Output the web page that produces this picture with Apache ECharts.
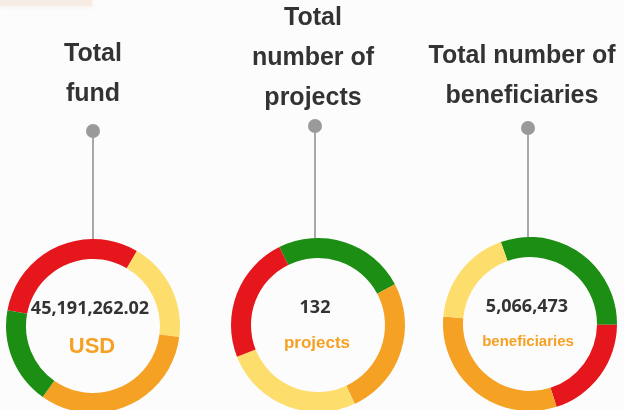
<!DOCTYPE html>
<html>
<head>
<meta charset="utf-8">
<script src="https://cdn.jsdelivr.net/npm/echarts@6/dist/echarts.min.js"></script>
<style>
  html, body { margin: 0; padding: 0; background: #fcfcfc; }
  #chart { width: 624px; height: 410px; }
</style>
</head>
<body>
<div id="chart"></div>
<script>
// headers above each ring
const titles = ['Total\nfund', 'Total\nnumber of\nprojects', 'Total number of\nbeneficiaries']
const totals = ['45,191,262.02', '132', '5,066,473']
const units = ['USD', 'projects', 'beneficiaries']

// ring slices (share of ring, %) in clockwise order
const segNames = [
  ['red', 'yellow', 'orange', 'green'],
  ['green', 'orange', 'yellow', 'red'],
  ['green', 'red', 'orange', 'yellow']
]
const segValues = [
  [30.5, 18.6, 32.8, 18.1],
  [24.6, 25.8, 26.0, 23.6],
  [30.6, 19.9, 31.3, 18.2]
]

const palette = {
  red: '#e5161c',
  yellow: '#fddd6c',
  orange: '#f5a123',
  green: '#1c8e14'
}

const centers = [[93, 326], [318, 325], [530, 324]]
const startAngles = [169.5, 116.4, 109.6]
const titleX = [93, 313, 522]
const titleTops = [34, -2, 36]
const pinY = [131, 126, 128]
const pinX = [93, 315, 528]
const unitSizes = [22, 17, 15]

const chart = echarts.init(document.getElementById('chart'))

const series = segValues.map((vals, i) => ({
  type: 'pie',
  radius: [67, 87],
  center: centers[i],
  startAngle: startAngles[i],
  clockwise: true,
  silent: true,
  label: { show: false },
  labelLine: { show: false },
  emphasis: { disabled: true },
  data: vals.map((v, j) => ({
    name: segNames[i][j],
    value: v,
    itemStyle: { color: palette[segNames[i][j]] }
  }))
}))

const graphic = []
// faint smudge top-left
graphic.push({
  type: 'rect',
  shape: { x: 0, y: 0, width: 92, height: 6 },
  style: { fill: '#f6ece4', shadowBlur: 6, shadowColor: '#f6ece4' },
  silent: true
})
titles.forEach((t, i) => {
  graphic.push({
    type: 'line',
    shape: { x1: pinX[i], y1: pinY[i], x2: pinX[i], y2: centers[i][1] - 87 },
    style: { stroke: '#8c8c8c', lineWidth: 1.5 },
    z: 1
  })
  graphic.push({
    type: 'circle',
    shape: { cx: pinX[i], cy: pinY[i], r: 7 },
    style: { fill: '#9a9a9a' },
    z: 2
  })
  graphic.push({
    type: 'text',
    x: titleX[i],
    y: titleTops[i],
    style: {
      text: t,
      fill: '#333333',
      font: 'bold 25px "Liberation Sans", Arial, sans-serif',
      textAlign: 'center',
      textVerticalAlign: 'top',
      lineHeight: 40
    },
    z: 3
  })
  graphic.push({
    type: 'text',
    x: centers[i][0] - 3,
    y: centers[i][1] - 17,
    style: {
      text: totals[i],
      fill: '#333333',
      font: 'bold 18px "Open Sans", sans-serif',
      textAlign: 'center',
      textVerticalAlign: 'middle'
    },
    z: 3
  })
  graphic.push({
    type: 'text',
    x: centers[i][0] - (i === 2 ? 2 : 1),
    y: centers[i][1] + (i === 0 ? 21 : 18),
    style: {
      text: units[i],
      fill: '#f5a123',
      font: 'bold ' + unitSizes[i] + 'px "Liberation Sans", Arial, sans-serif',
      textAlign: 'center',
      textVerticalAlign: 'middle'
    },
    z: 3
  })
})

chart.setOption({
  backgroundColor: '#fcfcfc',
  animation: false,
  series: series,
  graphic: graphic
})
</script>
</body>
</html>
